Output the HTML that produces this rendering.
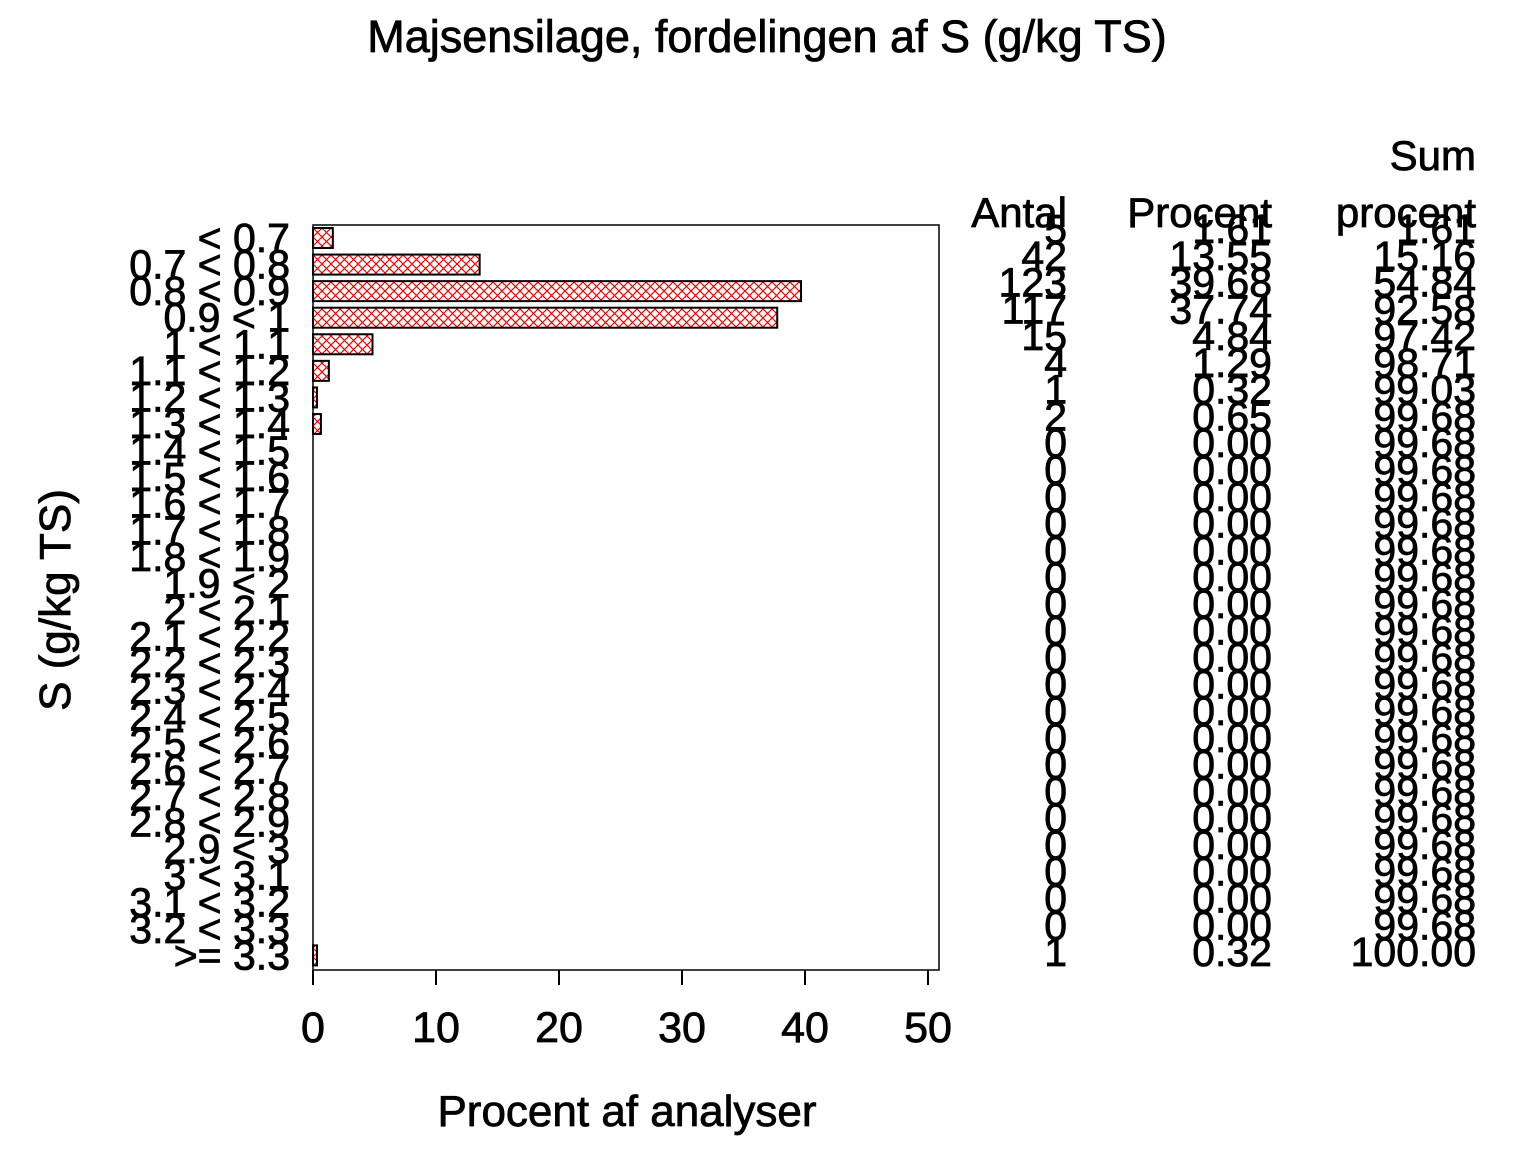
<!DOCTYPE html>
<html><head><meta charset="utf-8"><style>
html,body{margin:0;padding:0;background:#fff}
svg{display:block}
text{font-family:"Liberation Sans",Arial,sans-serif;fill:#000;stroke:#000;stroke-width:0.8}
</style></head><body>
<svg width="1536" height="1152" viewBox="0 0 1536 1152" xmlns="http://www.w3.org/2000/svg">
<defs>
<pattern id="h" width="9" height="9" patternUnits="userSpaceOnUse" x="313" y="228">
<path d="M0,0L9,9M9,0L0,9" stroke="#f00" stroke-width="1.2"/>
</pattern>
</defs>
<text x="767" y="52" font-size="45" text-anchor="middle">Majsensilage,  fordelingen  af  S  (g/kg  TS)</text>
<rect x="313" y="225" width="626" height="745" fill="none" stroke="#000" stroke-width="1.5"/>
<g id="bars" fill="url(#h)" stroke="#000" stroke-width="2"></g>
<g stroke="#000" stroke-width="2">
<line x1="313" y1="970" x2="313" y2="985"/><line x1="436" y1="970" x2="436" y2="985"/><line x1="559" y1="970" x2="559" y2="985"/><line x1="682" y1="970" x2="682" y2="985"/><line x1="805" y1="970" x2="805" y2="985"/><line x1="928" y1="970" x2="928" y2="985"/>
</g>
<g font-size="43" text-anchor="middle">
<text x="313" y="1042">0</text><text x="436" y="1042">10</text><text x="559" y="1042">20</text><text x="682" y="1042">30</text><text x="805" y="1042">40</text><text x="928" y="1042">50</text>
</g>
<text x="627" y="1126" font-size="44" text-anchor="middle">Procent  af  analyser</text>
<text transform="translate(70,600) rotate(-90)" font-size="44" text-anchor="middle">S  (g/kg  TS)</text>
<g id="yl" font-size="41" text-anchor="end"></g>
<g font-size="42" text-anchor="end">
<text x="1476" y="170">Sum</text>
<text x="1067" y="227">Antal</text><text x="1272" y="227">Procent</text><text x="1476" y="227">procent</text>
</g>
<g id="tb" font-size="41" text-anchor="end"></g>
</svg>
<script>
(function(){
var labs=["< 0.7","0.7 < 0.8","0.8 < 0.9","0.9 < 1","1 < 1.1","1.1 < 1.2","1.2 < 1.3","1.3 < 1.4","1.4 < 1.5","1.5 < 1.6","1.6 < 1.7","1.7 < 1.8","1.8 < 1.9","1.9 < 2","2 < 2.1","2.1 < 2.2","2.2 < 2.3","2.3 < 2.4","2.4 < 2.5","2.5 < 2.6","2.6 < 2.7","2.7 < 2.8","2.8 < 2.9","2.9 < 3","3 < 3.1","3.1 < 3.2","3.2 < 3.3",">= 3.3"];
var n=[5,42,123,117,15,4,1,2,0,0,0,0,0,0,0,0,0,0,0,0,0,0,0,0,0,0,0,1];
var tot=310,cum=0,ns="http://www.w3.org/2000/svg";
var bars=document.getElementById("bars"),yl=document.getElementById("yl"),tb=document.getElementById("tb");
function t(g,x,y,s){var e=document.createElementNS(ns,"text");e.setAttribute("x",x);e.setAttribute("y",y);e.textContent=s;g.appendChild(e);}
for(var i=0;i<28;i++){
 var p=n[i]/tot*100;cum+=p;
 var ty=228+26.57*i;
 if(n[i]>0){var r=document.createElementNS(ns,"rect");r.setAttribute("x",313);r.setAttribute("y",ty);r.setAttribute("width",Math.max(p*12.3,4));r.setAttribute("height",20);bars.appendChild(r);}
 t(yl,290,ty+24,labs[i]);
 var b=243+26.78*i;
 t(tb,1067,b,String(n[i]));t(tb,1272,b,p.toFixed(2));t(tb,1476,b,(i==27?100:cum).toFixed(2));
}
})();
</script>
</body></html>
